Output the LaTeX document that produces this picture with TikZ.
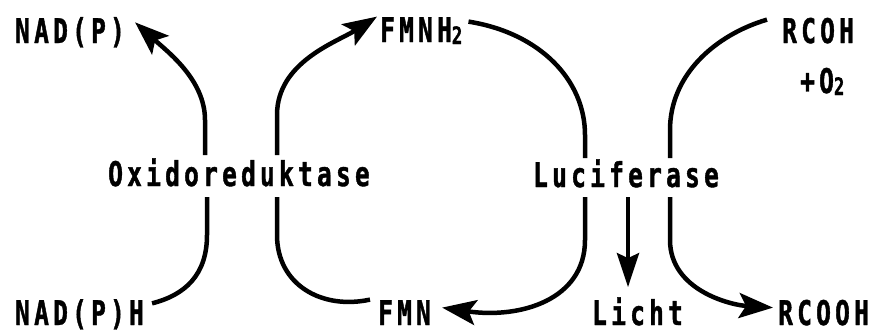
\documentclass[tikz,border=0pt]{standalone}
\usepackage{fontspec}
\usetikzlibrary{arrows.meta}
\newfontfamily\labfont{DejaVu Sans Mono}[BoldFont={DejaVu Sans Mono Bold}, BoldFeatures={FakeBold=1.2}, FakeStretch=0.72, LetterSpace=12.5]
\newcommand{\sub}[1]{\raisebox{-2pt}{\fontsize{24}{24}\selectfont #1}}
\tikzset{
  lab/.style={font=\labfont\bfseries\fontsize{34}{38}\selectfont, inner sep=0pt, anchor=base west},
  flow/.style={line width=4.5pt, line cap=butt},
  tip/.style={flow, -{Stealth[length=34pt, width=25pt, inset=7pt]}}
}
\begin{document}
\begin{tikzpicture}[x=1pt, y=-1pt]
  \useasboundingbox (0,0) rectangle (875,332);

  % substrates, products and enzymes
  \node[lab] (nadp)  at (15,43)  {NAD(P)};
  \node[lab] (nadph) at (15,325) {NAD(P)H};
  \node[lab] (oxi)   at (108,186) {Oxidoreduktase};
  \node[lab] (fmnh)  at (380,42) {FMNH\sub{2}};
  \node[lab] (fmn)   at (378,325) {FMN};
  \node[lab] (luc)   at (533,187) {Luciferase};
  \node[lab] (licht) at (592,325) {Licht};
  \node[lab] (rcoh)  at (782,43) {RCOH};
  \node[lab] (otwo)  at (800,93) {+O\sub{2}};
  \node[lab] (rcooh) at (778,325) {RCOOH};

  % ends of the half loops, just above and below the enzyme names
  \coordinate (oxA) at (205,155);
  \coordinate (oxB) at (207,197);
  \coordinate (oxC) at (277,155);
  \coordinate (oxD) at (277,197);
  \coordinate (luA) at (585,158);
  \coordinate (luB) at (585,197);
  \coordinate (luC) at (670,158);
  \coordinate (luD) at (670,197);
  \coordinate (luL) at (628,197);

  % oxidoreductase: NAD(P)H -> NAD(P)
  \draw[flow] ([shift={(8,-11)}]nadph.east) .. controls (185,295) and (207,275) .. (207,235) -- (oxB);
  \draw[tip] (oxA) -- (205,120) .. controls (205,80) and (168,52) .. ([shift={(10,-10)}]nadp.east);

  % oxidoreductase: FMN -> FMNH2
  \draw[flow] ([shift={(-8,-13)}]fmn.west) .. controls (322,310) and (277,285) .. (277,235) -- (oxD);
  \draw[tip] (oxC) -- (277,115) .. controls (277,62) and (337,42) .. ([shift={(-3,-14)}]fmnh.west);

  % luciferase: FMNH2 -> FMN
  \draw[flow] ([shift={(6,-9)}]fmnh.east) .. controls (540,33) and (585,80) .. (585,135) -- (luA);
  \draw[tip] (luB) -- (585,240) .. controls (585,300) and (520,319) .. ([shift={(11,-5)}]fmn.east);

  % luciferase: RCOH + O2 -> RCOOH, light
  \draw[flow] ([shift={(-15,-11)}]rcoh.west) .. controls (715,35) and (670,75) .. (670,130) -- (luC);
  \draw[tip] (luD) -- (670,240) .. controls (670,290) and (730,305) .. ([shift={(-5,-5)}]rcooh.west);
  \draw[tip, -{Stealth[length=34pt, width=22pt, inset=5pt]}] (luL) -- ([yshift=10pt]licht.north -| luL);
\end{tikzpicture}
\end{document}
